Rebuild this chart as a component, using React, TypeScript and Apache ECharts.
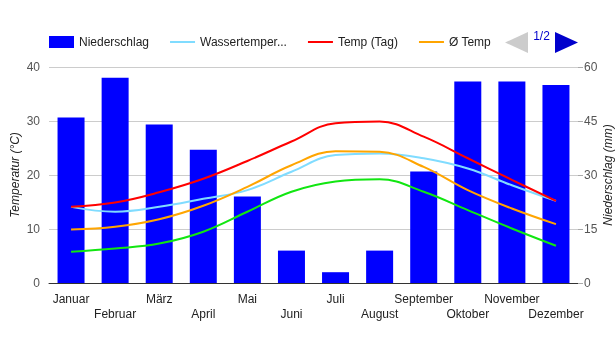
import React, { useEffect, useRef } from "react";
import * as echarts from "echarts";

const months = ["Januar", "Februar", "März", "April", "Mai", "Juni", "Juli", "August", "September", "Oktober", "November", "Dezember"];
const niederschlag = [46, 57, 44, 37, 24, 9, 3, 9, 31, 56, 56, 55];
const wassertemperatur = [14.1, 13.2, 14.1, 15.6, 17.2, 20.6, 23.7, 24.0, 23.1, 21.2, 18.1, 15.2];
const tempTag = [14.1, 14.9, 16.8, 19.3, 22.6, 26.2, 29.6, 29.9, 27.1, 23.1, 19.1, 15.2];
const tempMittel = [9.9, 10.4, 11.8, 14.3, 17.8, 21.8, 24.4, 24.3, 21.5, 17.2, 13.8, 10.9];
const tempNacht = [5.8, 6.4, 7.3, 9.5, 13.2, 16.9, 18.8, 19.2, 16.9, 13.5, 10.1, 6.9];
const tempTicks = [0, 10, 20, 30, 40];
const rainTicks = [0, 15, 30, 45, 60];
const pageLabel = "1/2";

const FONT = "'Liberation Sans', Arial, sans-serif";
const hiddenSymbol = { color: "rgba(0,0,0,0)", borderColor: "rgba(0,0,0,0)", borderWidth: 0 };

export default function App() {
  const ref = useRef<HTMLDivElement>(null);
  useEffect(() => {
    if (!ref.current) return;
    const chart = echarts.init(ref.current, null, { renderer: "svg" });
    const lineSeries = (name: string, data: number[], color: string) => ({
      name,
      type: "line",
      data,
      yAxisIndex: 0,
      smooth: 0.4,
      symbol: "none",
      lineStyle: { color, width: 2 },
      itemStyle: { color },
    });
    chart.setOption({
      animation: false,
      textStyle: { fontFamily: FONT },
      legend: {
        left: 49,
        top: 36,
        padding: 0,
        itemWidth: 25,
        itemHeight: 12,
        itemGap: 20,
        textStyle: { color: "#222", fontSize: 12, fontFamily: FONT },
        formatter: (name: string) => (name === "Wassertemperatur" ? "Wassertemper..." : name),
        data: [
          { name: "Niederschlag", icon: "rect" },
          { name: "Wassertemperatur", itemStyle: hiddenSymbol },
          { name: "Temp (Tag)", itemStyle: hiddenSymbol },
          { name: "Ø Temp", itemStyle: hiddenSymbol },
        ],
      },
      graphic: [
        {
          type: "polygon",
          shape: { points: [[505, 42.5], [528, 32], [528, 53]] },
          style: { fill: "#cccccc" },
          silent: true,
        },
        {
          type: "text",
          x: 541.5,
          y: 35.5,
          style: {
            text: pageLabel,
            fill: "#0000cc",
            font: "12px " + FONT,
            align: "center",
            verticalAlign: "middle",
          },
          silent: true,
        },
        {
          type: "polygon",
          shape: { points: [[578, 42.5], [555, 32], [555, 53]] },
          style: { fill: "#0000cc" },
          silent: true,
        },
      ],
      grid: { left: 49, right: 38, top: 67, bottom: 67, outerBoundsMode: "none", containLabel: false },
      xAxis: {
        type: "category",
        data: months,
        axisLine: { lineStyle: { color: "#333", width: 1 } },
        axisTick: { show: false },
        axisLabel: {
          interval: 0,
          color: "#222",
          fontSize: 12,
          fontFamily: FONT,
          margin: 8,
          lineHeight: 15,
          formatter: (v: string, i: number) => (i % 2 === 1 ? "\n" + v : v),
        },
      },
      yAxis: [
        {
          type: "value",
          min: tempTicks[0],
          max: tempTicks[tempTicks.length - 1],
          interval: 10,
          name: "Temperatur (°C)",
          nameLocation: "middle",
          nameRotate: 90,
          nameGap: 34,
          nameMoveOverlap: false,
          nameTextStyle: { fontStyle: "italic", color: "#222", fontSize: 12, fontFamily: FONT, verticalAlign: "middle" },
          axisLine: { show: false },
          axisTick: { show: false },
          axisLabel: { color: "#555", fontSize: 12, fontFamily: FONT, margin: 9 },
          splitLine: { lineStyle: { color: "#cccccc", width: 1 } },
        },
        {
          type: "value",
          position: "right",
          min: rainTicks[0],
          max: rainTicks[rainTicks.length - 1],
          interval: 15,
          name: "Niederschlag (mm)",
          nameLocation: "middle",
          nameRotate: 90,
          nameGap: 30,
          nameMoveOverlap: false,
          nameTextStyle: { fontStyle: "italic", color: "#222", fontSize: 12, fontFamily: FONT, verticalAlign: "middle" },
          axisLine: { show: false },
          axisTick: { show: true, length: 5, lineStyle: { color: "#aaa" } },
          axisLabel: { color: "#555", fontSize: 12, fontFamily: FONT, margin: 6 },
          splitLine: { show: false },
        },
      ],
      series: [
        {
          name: "Niederschlag",
          type: "bar",
          data: niederschlag,
          yAxisIndex: 1,
          barWidth: 27,
          itemStyle: { color: "#0000ff" },
        },
        lineSeries("Wassertemperatur", wassertemperatur, "#80dcff"),
        lineSeries("Temp (Tag)", tempTag, "#ff0000"),
        lineSeries("Ø Temp", tempMittel, "#ffa500"),
        lineSeries("Temp (Nacht)", tempNacht, "#11e611"),
      ],
    });
    return () => chart.dispose();
  }, []);
  return <div ref={ref} style={{ position: "fixed", left: 0, top: 0, width: 616, height: 350 }} />;
}
